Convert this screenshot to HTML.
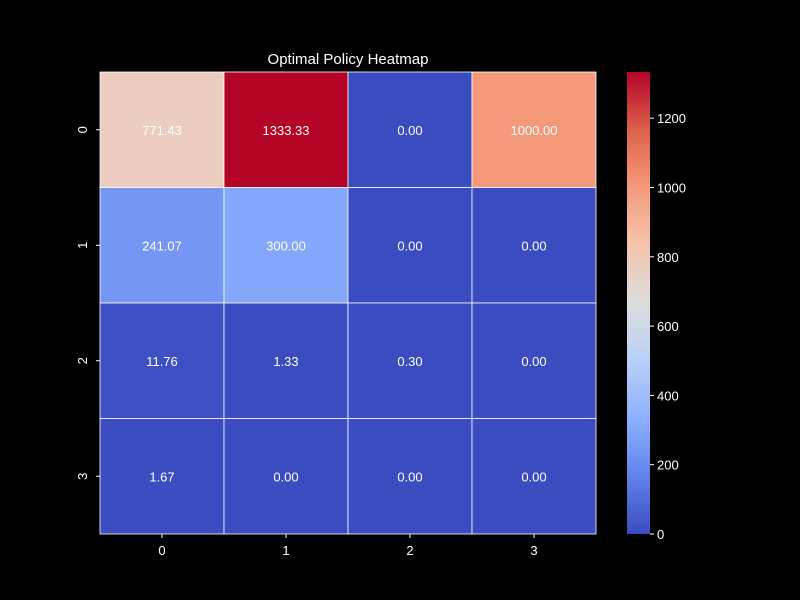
<!DOCTYPE html>
<html><head><meta charset="utf-8"><style>
html,body{margin:0;padding:0;background:#000;}
svg{display:block;font-family:"Liberation Sans","DejaVu Sans",sans-serif;}
</style></head><body>
<svg id="chart" width="800" height="600">
<rect width="800" height="600" fill="#000"/>
<text x="348" y="64" fill="#fff" font-size="15" text-anchor="middle">Optimal Policy Heatmap</text>
<g id="cells"></g><g id="xt"></g><g id="yt"></g>
<defs><linearGradient id="cg" x1="0" y1="1" x2="0" y2="0"></linearGradient></defs>
<rect x="627" y="72" width="23" height="462" fill="url(#cg)"/>
<g id="ct"></g>
</svg>
<script>
const rowLabels=["0","1","2","3"];
const colLabels=["0","1","2","3"];
const values=[[771.43,1333.33,0.00,1000.00],[241.07,300.00,0.00,0.00],[11.76,1.33,0.30,0.00],[1.67,0.00,0.00,0.00]];
const cbTicks=[0,200,400,600,800,1000,1200];
const vmin=0,vmax=1333.33;
const L=100,R=596,T=72,B=534;
const cw=(R-L)/colLabels.length,rh=(B-T)/rowLabels.length;
const xs=i=>L+i*cw, ys=j=>T+j*rh;
const stops=[[59,76,192],[98,130,234],[141,176,254],[184,208,249],[221,221,221],[245,196,173],[244,154,123],[222,96,77],[180,4,38]];
function cmap(t){t=Math.max(0,Math.min(1,t));const p=t*(stops.length-1),i=Math.min(Math.floor(p),stops.length-2),f=p-i;
const c=stops[i].map((v,k)=>Math.round(v+(stops[i+1][k]-v)*f));return `rgb(${c})`;}
const NS="http://www.w3.org/2000/svg";
function el(tag,attrs,parent,txt){const e=document.createElementNS(NS,tag);for(const k in attrs)e.setAttribute(k,attrs[k]);if(txt!==undefined)e.textContent=txt;parent.appendChild(e);return e;}
const cells=document.getElementById('cells');
values.forEach((row,j)=>row.forEach((v,i)=>{
 const r=el('rect',{x:xs(i),y:ys(j),width:cw,height:rh,fill:cmap((v-vmin)/(vmax-vmin)),stroke:'#fff','stroke-width':0.8},cells);
 
 
 const t=el('text',{x:xs(i)+cw/2,y:ys(j)+rh/2+5,fill:'#fff','font-size':13,'text-anchor':'middle'},cells,v.toFixed(2));
 
 
}));
const xt=document.getElementById('xt');
colLabels.forEach((c,i)=>{const x=xs(i)+cw/2;
 el('line',{x1:x,x2:x,y1:B,y2:B+4,stroke:'#fff'},xt);
 const t=el('text',{x:x,y:B+21,fill:'#fff','font-size':13,'text-anchor':'middle'},xt,c);
 
 });
const yt=document.getElementById('yt');
rowLabels.forEach((c,j)=>{const y=ys(j)+rh/2;
 el('line',{x1:L-4,x2:L,y1:y,y2:y,stroke:'#fff'},yt);
 const t=el('text',{x:87,y:y,fill:'#fff','font-size':13,'text-anchor':'middle',transform:`rotate(-90 87 ${y})`},yt,c);
 
 });
const g=document.getElementById('cg');
for(let k=0;k<=40;k++){el('stop',{offset:k/40,'stop-color':cmap(k/40)},g);}
const ct=document.getElementById('ct');
cbTicks.forEach(v=>{const y=B-(v-vmin)/(vmax-vmin)*(B-T);
 el('line',{x1:650,x2:654,y1:y,y2:y,stroke:'#fff'},ct);
 const t=el('text',{x:657,y:y+5,fill:'#fff','font-size':13},ct,String(v));
 
 });
</script>
</body></html>
